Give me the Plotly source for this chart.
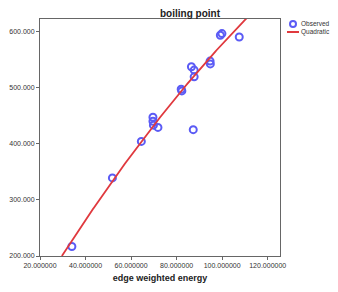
import numpy as np
import plotly.graph_objects as go

edge_energy = [34.0, 51.8, 64.5, 69.6, 69.6, 69.8, 71.8, 82.0, 82.3, 86.5, 87.7, 87.7, 87.3, 94.7, 94.8, 99.2, 99.9, 107.5]
boiling_pt = [217, 339, 404, 447, 440, 433, 429, 497, 494, 537, 531, 519, 425, 547, 542, 593, 596, 590]

# Quadratic fit coefficients: y = c0 + c1*u + c2*u^2, u = x - x0
x0 = 29.6
c0, c1, c2 = 200.0, 6.303, -0.01337

x_ticks = [20, 40, 60, 80, 100, 120]
y_ticks = [200, 300, 400, 500, 600]

legend_names = ["Observed", "Quadratic"]

BLUE = "#5b5bf5"
RED = "#e0393e"

xf = np.linspace(x0, 112, 200)
u = xf - x0
yf = c0 + c1 * u + c2 * u ** 2

fig = go.Figure()
fig.add_trace(go.Scatter(x=edge_energy, y=boiling_pt, mode="markers", name=legend_names[0],
                         marker=dict(symbol="circle-open", size=7, color=BLUE, line=dict(width=2))))
fig.add_trace(go.Scatter(x=xf, y=yf, mode="lines", name=legend_names[1],
                         line=dict(color=RED, width=1.8)))

axis_common = dict(showline=True, linecolor="#666666", linewidth=1, mirror=True, showgrid=False,
                   zeroline=False, ticks="outside", ticklen=3, tickcolor="#666666",
                   tickfont=dict(family="Arial, Liberation Sans", size=7, color="#333333"))
fig.update_xaxes(range=[20, 125.4], tickvals=x_ticks, ticktext=[f"{v:.6f}" for v in x_ticks],
                 title=dict(text="<b>edge weighted energy</b>", font=dict(family="Arial, Liberation Sans", size=9, color="#222"), standoff=6),
                 **axis_common)
fig.update_yaxes(range=[200, 622], tickvals=y_ticks, ticktext=[f"{v:.3f}" for v in y_ticks],
                 **axis_common)

# Legend drawn manually (compact, as in reference)
L, R, T, B = 40, 280, 19, 256
def fx(px):
    return (px - L) / (R - L)
def fy(py):
    return 1 - (py - T) / (B - T)

shapes = [
    dict(type="circle", xref="paper", yref="paper", x0=fx(290), x1=fx(296), y0=fy(21), y1=fy(27),
         line=dict(color=BLUE, width=2)),
    dict(type="line", xref="paper", yref="paper", x0=fx(287), x1=fx(299), y0=fy(32), y1=fy(32),
         line=dict(color=RED, width=2)),
]
annotations = [
    dict(text=legend_names[0], xref="paper", yref="paper", x=fx(299), y=fy(24), xanchor="left", yanchor="middle",
         showarrow=False, font=dict(family="Arial, Liberation Sans", size=6.5, color="#333")),
    dict(text=legend_names[1], xref="paper", yref="paper", x=fx(299), y=fy(32), xanchor="left", yanchor="middle",
         showarrow=False, font=dict(family="Arial, Liberation Sans", size=6.5, color="#333")),
]

fig.update_layout(
    width=338, height=292,
    margin=dict(l=L, r=338 - R, t=T, b=292 - B, autoexpand=False),
    paper_bgcolor="white", plot_bgcolor="white",
    title=dict(text="<b>boiling point</b>", x=190 / 338, xanchor="center", y=1 - 13 / 292, yanchor="middle",
               font=dict(family="Arial, Liberation Sans", size=10, color="#222")),
    showlegend=False,
    shapes=shapes,
    annotations=annotations,
)
fig.write_html("out.html", config={"displayModeBar": False},
               post_script="document.body.style.margin='0';document.body.style.overflow='hidden';")
